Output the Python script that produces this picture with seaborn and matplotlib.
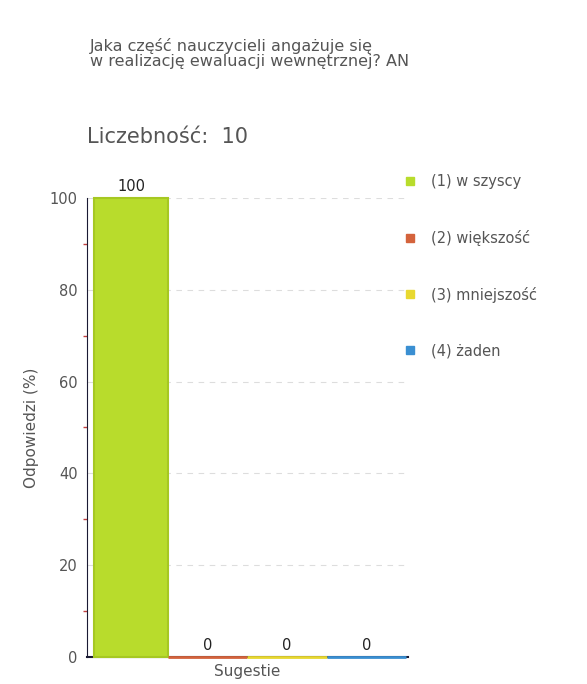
import matplotlib
matplotlib.use("Agg")
import matplotlib.pyplot as plt
import seaborn as sns
import pandas as pd
from matplotlib.ticker import MultipleLocator

# Data
group = "Sugestie"
answers = ["(1) w szyscy", "(2) większość", "(3) mniejszość", "(4) żaden"]
percents = [100, 0, 0, 0]
colors = ["#b8dc2c", "#d4633c", "#e8d830", "#3a8fd2"]
count_n = 10
title = "Jaka część nauczycieli angażuje się\nw realizację ewaluacji wewnętrznej? AN"

sns.set_style("white")
plt.rcParams["font.family"] = ["DejaVu Sans"]
text_col = "#555555"

df = pd.DataFrame({"grupa": [group] * len(answers), "odp": answers, "proc": percents})

fig = plt.figure(figsize=(5.87, 6.84), dpi=100)
ax = fig.add_axes([0.148, 0.0395, 0.547, 0.671])

sns.barplot(data=df, x="grupa", y="proc", hue="odp", palette=colors,
            width=0.99, gap=0, legend=False, ax=ax, saturation=1)

for patch, c in zip(ax.patches, colors):
    patch.set_edgecolor(c)
    patch.set_linewidth(2)
    patch.set_zorder(5)
    patch.set_clip_on(False)
# first bar sits a bit off the axis, like in the original
first = ax.patches[0]
first.set_x(first.get_x() + 0.018)
first.set_width(first.get_width() - 0.018)
first.set_edgecolor("#a6c822")
first.set_linewidth(1.5)

for cont in ax.containers:
    ax.bar_label(cont, fmt="%d", padding=3, fontsize=10.5, color="#222222")

ax.set_ylim(0, 100)
ax.set_xlim(-0.5, 0.5)
ax.yaxis.set_major_locator(MultipleLocator(20))
ax.yaxis.set_minor_locator(MultipleLocator(10))
ax.tick_params(axis="y", which="major", direction="inout", length=6, width=1,
               color="#1a1a33", labelsize=10.5, labelcolor=text_col)
ax.tick_params(axis="y", which="minor", direction="out", length=3, width=1,
               color="#c04040", left=True)
ax.tick_params(axis="x", direction="inout", length=8, width=1,
               color="#1a1a33", labelsize=11, labelcolor=text_col, pad=1)
ax.set_xlabel("")
ax.set_ylabel("Odpowiedzi (%)", fontsize=11, color=text_col, labelpad=8)

ax.yaxis.grid(True, linestyle=(0, (5, 5)), color="#dddddd", linewidth=0.8)
ax.set_axisbelow(True)
sns.despine(ax=ax, top=True, right=True)
ax.spines["left"].set_color("#1a1a33")
ax.spines["bottom"].set_color("#1a1a33")
ax.spines["bottom"].set_linewidth(1.5)
ax.spines["bottom"].set_zorder(1)

fig.text(0.153, 0.945, title, fontsize=11.5, color=text_col, va="top",
         linespacing=1.0)
fig.text(0.148, 0.80, "Liczebność:  " + str(count_n), fontsize=15,
         color=text_col, va="center")

handles = [plt.Line2D([], [], marker="s", linestyle="", markersize=6,
                      markerfacecolor=c, markeredgecolor=c) for c in colors]
fig.legend(handles, answers, loc="upper left", bbox_to_anchor=(0.664, 0.765),
           frameon=False, fontsize=10.5, labelspacing=2.8, handletextpad=0.9,
           handlelength=1.0, labelcolor=text_col)

fig.savefig("out.png", dpi=100)
